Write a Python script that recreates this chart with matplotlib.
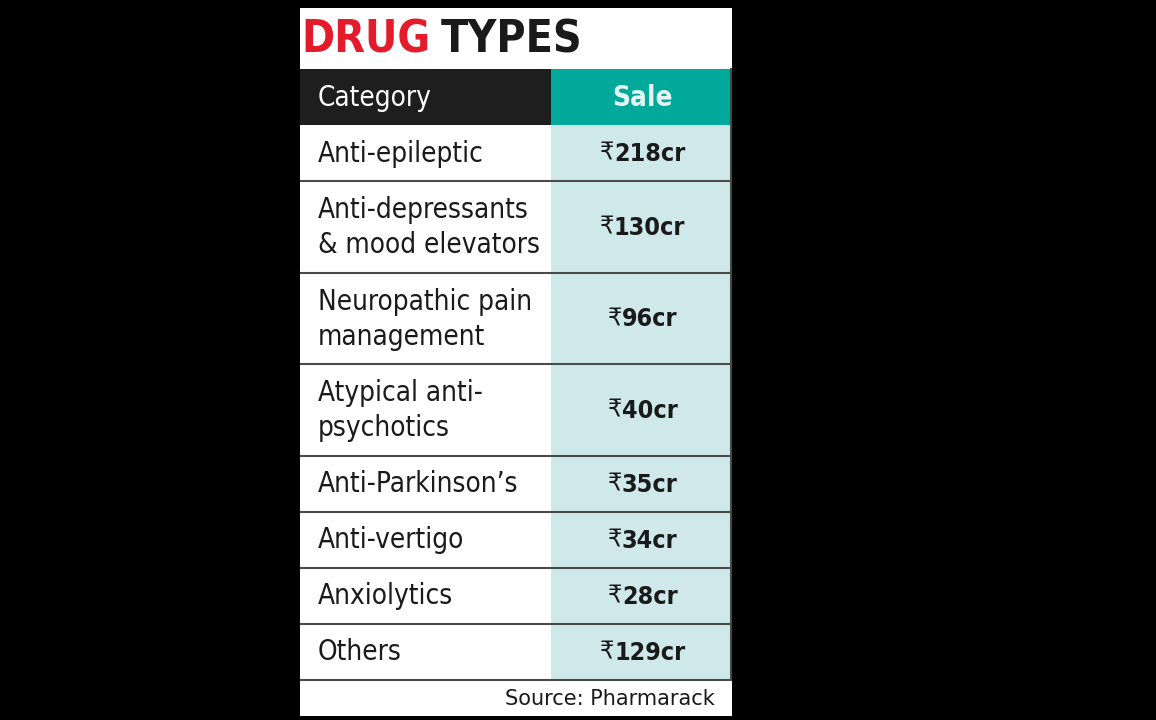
import matplotlib.pyplot as plt
from matplotlib.patches import Rectangle

# table content
categories = ["Anti-epileptic", "Anti-depressants\n& mood elevators",
              "Neuropathic pain\nmanagement", "Atypical anti-\npsychotics",
              "Anti-Parkinson\u2019s", "Anti-vertigo", "Anxiolytics", "Others"]
sales = [218, 130, 96, 40, 35, 34, 28, 129]
title_red = "DRUG"
title_black = "TYPES"
col_headers = ["Category", "Sale"]
source = "Source: Pharmarack"

FONT = 'DejaVu Sans'
RED = '#e31b2b'
TEAL = '#00a99a'
LIGHT = '#cfe9eb'
DARK = '#1e1e1e'
INK = '#1a1a1a'
LINE = '#4a4a4a'

fig = plt.figure(figsize=(11.56, 7.2), dpi=100)
fig.patch.set_facecolor('black')
ax = fig.add_axes([0, 0, 1, 1])
ax.set_xlim(0, 1156)
ax.set_ylim(720, 0)
ax.axis('off')

left, mid, right = 300, 551, 732
top_panel, bottom_panel = 8, 716

# white panel
ax.add_patch(Rectangle((left, top_panel), right - left, bottom_panel - top_panel,
                       facecolor='white', edgecolor='none'))

renderer = fig.canvas.get_renderer()

# title
t1 = ax.text(left + 1, 40, title_red, color=RED, fontsize=32, fontweight='bold',
             family=FONT, fontstretch='condensed', va='center', ha='left')
bb = t1.get_window_extent(renderer)
ax.text(bb.x1 + 11, 40, title_black, color=INK, fontsize=32, fontweight='bold',
        family=FONT, fontstretch='condensed', va='center', ha='left')

# header
head_top, head_h = 69, 56
ax.add_patch(Rectangle((left, head_top), mid - left, head_h, facecolor=DARK, edgecolor='none'))
ax.add_patch(Rectangle((mid, head_top), right - mid, head_h, facecolor=TEAL, edgecolor='none'))
ax.text(318, head_top + head_h / 2 + 1, col_headers[0], color='white', fontsize=20,
        family=FONT, fontstretch='condensed', va='center', ha='left')
ax.text((mid + right) / 2 + 1, head_top + head_h / 2 + 1, col_headers[1], color='#e2f5f2',
        fontsize=20, fontweight='bold', family=FONT, fontstretch='condensed',
        va='center', ha='center')

# rows
y = head_top + head_h
for cat, val in zip(categories, sales):
    n_lines = cat.count('\n') + 1
    h = 56 + 35.5 * (n_lines - 1)
    ax.add_patch(Rectangle((mid, y), right - mid, h, facecolor=LIGHT, edgecolor='none'))
    ax.text(318, y + h / 2 + 1, cat, color=INK, fontsize=20, family=FONT,
            fontstretch='condensed', va='center', ha='left', linespacing=1.3)
    # rupee sign regular, number bold, centred together
    num = ax.text(0, 0, f"{val}cr", fontsize=18, fontweight='bold', family=FONT,
                  fontstretch='condensed', color=INK, va='center')
    sym = ax.text(0, 0, "\u20b9", fontsize=18, family=FONT, fontstretch='condensed',
                  color=INK, va='center')
    w_num = num.get_window_extent(renderer).width
    w_sym = sym.get_window_extent(renderer).width
    cx = (mid + right) / 2 + 1
    x0 = cx - (w_num + w_sym) / 2
    sym.set_position((x0, y + h / 2 + 1))
    num.set_position((x0 + w_sym, y + h / 2 + 1))
    y += h
    ax.plot([left, right], [y, y], color=LINE, lw=1.5, solid_capstyle='butt')

# right border
ax.plot([right - 1, right - 1], [head_top, y], color=LINE, lw=1.5)

# source
ax.text(715, (y + bottom_panel) / 2 + 1, source, color=INK, fontsize=15,
        family=FONT, va='center', ha='right')

fig.savefig('out.png', dpi=100, facecolor=fig.get_facecolor())
